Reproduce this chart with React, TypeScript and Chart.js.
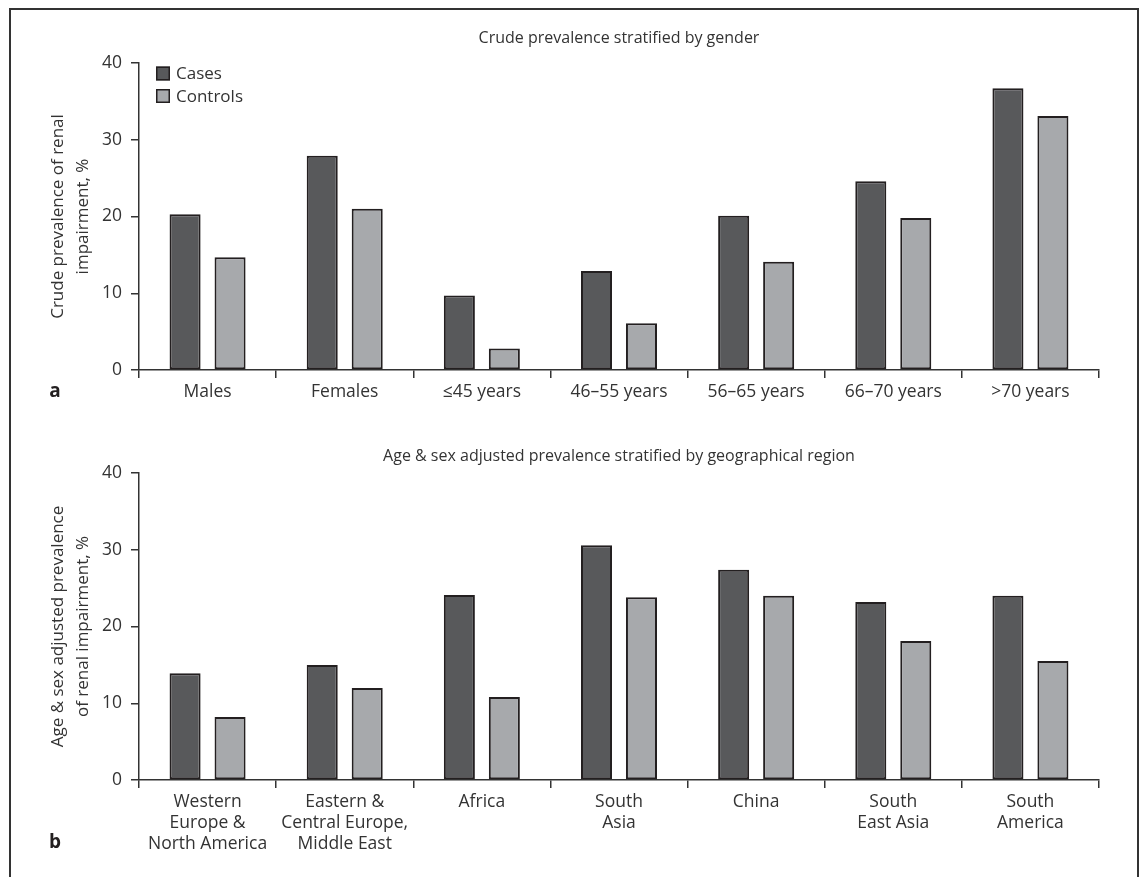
import { useEffect, useRef } from "react";
import { Chart, registerables } from "chart.js";

Chart.register(...registerables);

const FONT = "'Open Sans', 'Noto Sans', sans-serif";
const TEXT = "#333333";
const AXIS = "#333333";
const CASES_COLOR = "#58595b";
const CONTROLS_COLOR = "#a7a9ac";
const BAR_BORDER = "#231f20";

const seriesNames = ["Cases", "Controls"];

const genderCategories = ["Males", "Females", "≤45 years", "46–55 years", "56–65 years", "66–70 years", ">70 years"];
const genderCases = [20.3, 27.9, 9.7, 12.9, 20.1, 24.6, 36.7];
const genderControls = [14.7, 21.0, 2.8, 6.1, 14.1, 19.8, 33.1];

const regionCategories = [
  ["Western", "Europe &", "North America"],
  ["Eastern &", "Central Europe,", "Middle East"],
  ["Africa"],
  ["South", "Asia"],
  ["China"],
  ["South", "East Asia"],
  ["South", "America"],
];
const regionCases = [13.9, 15.0, 24.1, 30.6, 27.4, 23.2, 24.0];
const regionControls = [8.2, 12.0, 10.8, 23.8, 24.0, 18.1, 15.5];

const yTicks = [0, 10, 20, 30, 40];

const titleA = "Crude prevalence stratified by gender";
const titleB = "Age & sex adjusted prevalence stratified by geographical region";
const yTitleA = ["Crude prevalence of renal", "impairment, %"];
const yTitleB = ["Age & sex adjusted prevalence", "of renal impairment, %"];

const insideLegend = {
  id: "insideLegend",
  afterDraw(chart: any, _args: any, opts: any) {
    if (!opts || !opts.show) return;
    const ctx = chart.ctx;
    ctx.save();
    chart.data.datasets.forEach((ds: any, i: number) => {
      const x = opts.x;
      const y = opts.y + i * opts.rowHeight;
      ctx.fillStyle = ds.backgroundColor;
      ctx.fillRect(x, y - 7, 14, 14);
      ctx.strokeStyle = BAR_BORDER;
      ctx.lineWidth = 1.5;
      ctx.strokeRect(x + 0.75, y - 6.25, 12.5, 12.5);
      ctx.fillStyle = TEXT;
      ctx.font = `17px ${FONT}`;
      ctx.textBaseline = "middle";
      ctx.textAlign = "left";
      ctx.fillText(ds.label, x + 20, y + 1);
    });
    ctx.restore();
  },
};

const panelLabel = {
  id: "panelLabel",
  afterDraw(chart: any, _args: any, opts: any) {
    if (!opts || !opts.text) return;
    const ctx = chart.ctx;
    ctx.save();
    ctx.fillStyle = "#231f20";
    ctx.font = `bold 19px ${FONT}`;
    ctx.textAlign = "center";
    ctx.textBaseline = "middle";
    ctx.fillText(opts.text, opts.x, opts.y);
    ctx.restore();
  },
};

function buildConfig(
  labels: any[],
  cases: number[],
  controls: number[],
  title: string,
  yTitle: string[],
  titlePad: { top: number; bottom: number },
  xHeight: number,
  legend: boolean,
  letter: string,
  letterY: number
): any {
  return {
    type: "bar",
    data: {
      labels,
      datasets: [
        {
          label: seriesNames[0],
          data: cases,
          backgroundColor: CASES_COLOR,
          borderColor: BAR_BORDER,
          borderWidth: 2,
          borderSkipped: false,
        },
        {
          label: seriesNames[1],
          data: controls,
          backgroundColor: CONTROLS_COLOR,
          borderColor: BAR_BORDER,
          borderWidth: 2,
          borderSkipped: false,
        },
      ],
    },
    options: {
      responsive: false,
      animation: false,
      devicePixelRatio: 1,
      datasets: { bar: { categoryPercentage: 0.656, barPercentage: 0.69 } },
      layout: { padding: { left: 0, right: 45, top: 0, bottom: 0 } },
      plugins: {
        legend: { display: false },
        tooltip: { enabled: false },
        title: {
          display: true,
          text: title,
          fullSize: false,
          color: TEXT,
          font: { family: FONT, size: 16, weight: "normal", lineHeight: 1.2 },
          padding: titlePad,
        },
        insideLegend: { show: legend, x: 156, y: 73.5, rowHeight: 22.5 },
        panelLabel: { text: letter, x: 55, y: letterY },
      },
      scales: {
        x: {
          type: "category",
          offset: true,
          afterFit: (s: any) => {
            s.height = xHeight;
          },
          border: { display: true, color: AXIS, width: 1.5 },
          grid: {
            display: true,
            offset: true,
            drawOnChartArea: false,
            drawTicks: true,
            tickLength: 8,
            color: AXIS,
            lineWidth: 1.5,
          },
          ticks: {
            color: TEXT,
            padding: 3,
            maxRotation: 0,
            autoSkip: false,
            font: { family: FONT, size: 17.5, lineHeight: 1.22 },
          },
        },
        y: {
          min: 0,
          max: 40,
          afterFit: (s: any) => {
            s.width = 139;
          },
          afterBuildTicks: (s: any) => {
            s.ticks = yTicks.map((v) => ({ value: v }));
          },
          border: { display: true, color: AXIS, width: 1.5 },
          grid: {
            display: true,
            drawOnChartArea: false,
            drawTicks: true,
            tickLength: 8,
            color: AXIS,
            lineWidth: 1.5,
          },
          ticks: {
            color: TEXT,
            padding: 9,
            font: { family: FONT, size: 17.5 },
          },
          title: {
            display: true,
            text: yTitle,
            color: TEXT,
            font: { family: FONT, size: 17, lineHeight: 1.47 },
            padding: { top: 45.5, bottom: 0 },
          },
        },
      },
    },
    plugins: [insideLegend, panelLabel],
  };
}

export default function App() {
  const refA = useRef<HTMLCanvasElement | null>(null);
  const refB = useRef<HTMLCanvasElement | null>(null);

  useEffect(() => {
    if (!refA.current || !refB.current) return;
    const chartA = new Chart(
      refA.current,
      buildConfig(genderCategories, genderCases, genderControls, titleA, yTitleA, { top: 28.4, bottom: 15.4 }, 60, true, "a", 392)
    );
    const chartB = new Chart(
      refB.current,
      buildConfig(regionCategories, regionCases, regionControls, titleB, yTitleB, { top: 6.4, bottom: 7.4 }, 97, false, "b", 403)
    );
    return () => {
      chartA.destroy();
      chartB.destroy();
    };
  }, []);

  return (
    <div
      style={{
        position: "absolute",
        left: 0,
        top: 0,
        width: 1144,
        height: 877,
        overflow: "hidden",
        background: "#ffffff",
      }}
    >
      <canvas
        ref={refA}
        width={1144}
        height={430}
        style={{ position: "absolute", left: 0, top: 0, width: 1144, height: 430 }}
      />
      <canvas
        ref={refB}
        width={1144}
        height={437}
        style={{ position: "absolute", left: 0, top: 440, width: 1144, height: 437 }}
      />
      <div
        style={{
          position: "absolute",
          left: 9,
          top: 8,
          width: 1130,
          height: 1000,
          boxSizing: "border-box",
          border: "2px solid #333333",
          pointerEvents: "none",
        }}
      />
    </div>
  );
}
